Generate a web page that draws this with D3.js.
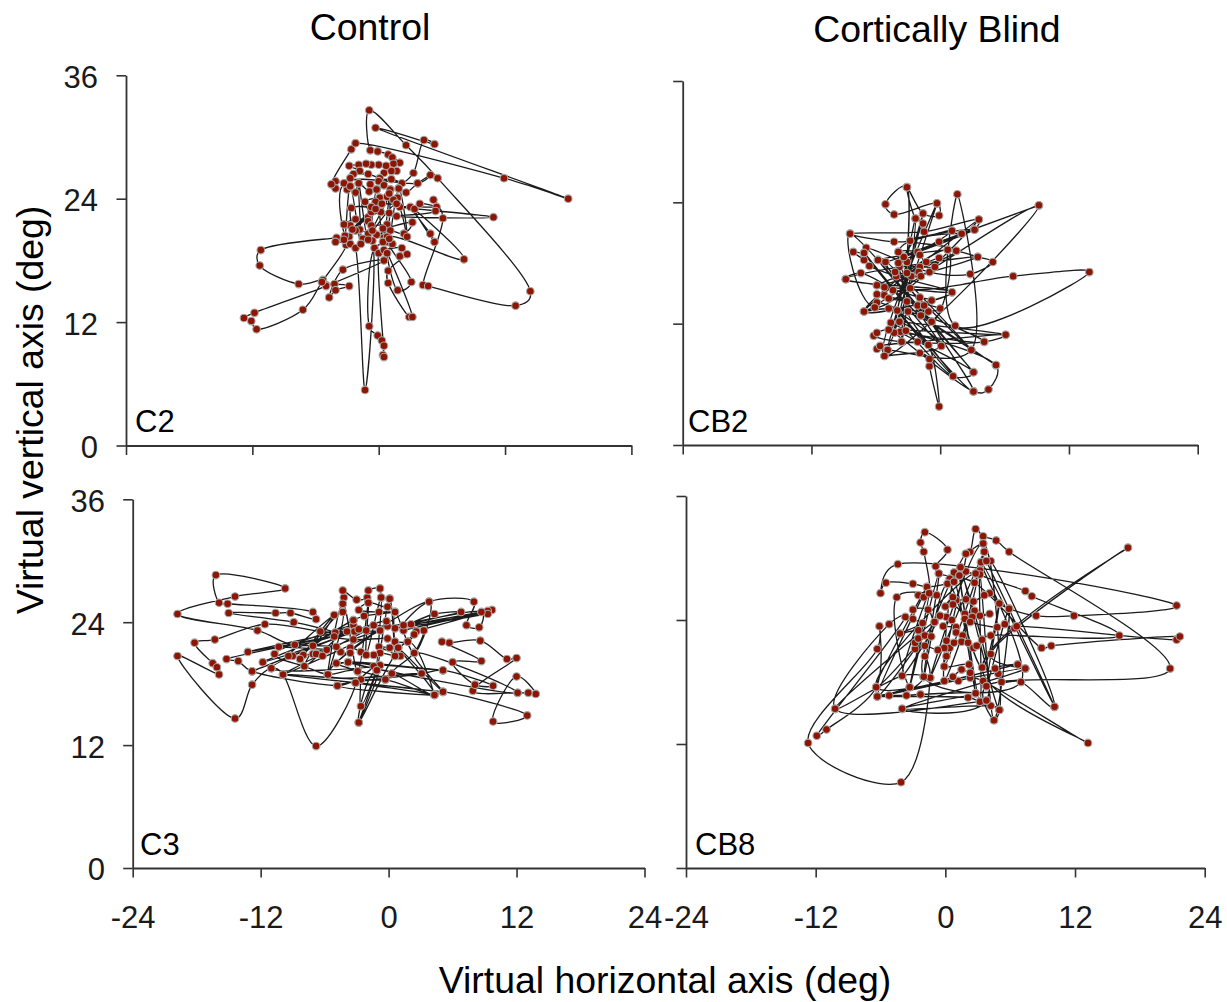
<!DOCTYPE html>
<html>
<head>
<meta charset="utf-8">
<script src="https://cdn.jsdelivr.net/npm/d3@7"></script>
<style>
  html, body { margin: 0; padding: 0; background: #fff; }
  svg { display: block; }
  text { font-family: "Liberation Sans", Arial, sans-serif; fill: #1a1a1a; }
</style>
</head>
<body>
<svg id="chart" width="1227" height="1002"></svg>
<script>
// fixation positions in degrees, in scan order
let scanC2 = [[-1,22.2],[.2,22.7],[1,22.6],[-.7,22.7],[-1.3,23.7],[.1,24.1],[-.3,23.7],[.8,24.2],[1.8,24.1],[1.4,23.9],[1.7,23.5],[.3,23.5],[-.7,23.2],[-2.6,23.1],[-2.7,21.4],[-3.3,21.5],[-2.2,22],[-1,21.8],[-.7,21.4],[.8,21.5],[.4,21.1],[3.2,21.7],[2.4,20.6],[1.1,20.9],[-.2,20.5],[-1,20.6],[-1.8,21],[-2.2,20.9],[-2.8,20.3],[-4,20.2],[-11.2,19],[-11.3,17.5],[-7.6,15.7],[-5.3,16.1],[-5,15.6],[-4.2,15.7],[-2.8,15.5],[-4.1,15.1],[-4.7,14.4],[-3.4,17.1],[.5,18],[-5,15.5],[-11.8,12.9],[-12.8,12.4],[-12.1,12.1],[-11.6,11.3],[-7.2,13.2],[-5.4,15.9],[-3.1,19.5],[-4.1,19.8],[-2.7,19.6],[-2.2,19.2],[-1.3,5.4],[-.6,19.9],[-1.5,20.1],[.5,20.2],[.8,19.8],[1.3,19.6],[-.4,19.2],[-.9,11.6],[-.1,10.7],[.3,10.2],[.5,9.7],[.4,8.8],[.5,8.6],[0,18.7],[.5,19],[2.2,19.2],[2,18.4],[2.7,18.6],[.9,17],[.9,15.8],[2.9,12.5],[3.2,12.5],[.8,18.7],[1.8,15.1],[3.1,15.9],[.8,20.3],[8.1,18.1],[3,23.2],[4.9,20.6],[5.3,19.8],[3.4,23],[3.9,23.5],[5.5,23.2],[2,23.2],[10.9,22.2],[1.7,22.3],[5.4,22.8],[5.2,23.9],[6.1,22.1],[4.2,15.6],[4.7,15.5],[13,13.6],[14.4,15],[5.6,26],[2.6,29.2],[-.9,32.6],[-.8,28.7],[-.1,28.6],[.9,28.3],[1.3,28],[2,27.5],[1.4,27.4],[1.7,26.7],[1.2,26.7],[.5,26.5],[.7,27.2],[0,27.3],[-.7,27.3],[-1.2,27.4],[-1.9,27.3],[-2.8,27.2],[-1.8,26.7],[-2.4,26.4],[-1,26.4],[.1,26],[2.2,25.5],[1.2,25.9],[0,25.7],[1.1,24.9],[.5,25.3],[-.2,24.9],[-.8,25.4],[-.9,24.7],[-1.9,25.5],[-2.2,24.6],[-2.7,25.2],[-3,24.9],[-2.7,26],[-3.3,25.5],[-4.1,25.7],[-4.1,25],[-4.5,25.4],[-2.6,28.8],[-2.2,29.4],[11.9,26],[18,24],[-.3,30.9],[5.3,29.3],[4.3,29.7],[3.3,26.5],[1.9,25],[2.6,24.6],[3.7,25.5],[4.9,26.3],[3.7,25.5],[-3.3,25.5],[-3.2,20.4],[-2.7,25.2],[-1.7,19.6],[-1.9,25.5],[-1,20],[-.2,24.9],[.4,19.8],[1.1,24.9],[1,20.1],[1.9,25],[2.7,20.3],[1.7,23.5],[-.6,20.9],[1,24.5],[-2.5,21],[-.3,23],[-3.3,20]]

let scanCB2 = [[-3.8,17.6],[-2.8,15.5],[6.8,16.7],[13.9,17.1],[1.4,11.8],[1.6,24.8],[2.9,9.4],[-4.9,9.4],[-5.9,9.5],[-5.6,9.8],[-2.1,10.2],[6.1,10.9],[4.1,10.2],[-3.6,10.2],[-6.2,10.8],[-5.9,11.1],[-4.8,11.4],[-4.3,11.1],[3.1,5.3],[4.5,5.5],[5.2,7.9],[-3.7,11.2],[3.1,7.2],[1.2,6.8],[-3.2,11.3],[-4.6,12.1],[-3.8,12.2],[-1.1,9.9],[-.1,3.8],[-1,7.8],[-1,8.5],[-1.9,9.1],[-5.2,8.8],[.1,9.8],[-4,13.3],[-3,13.2],[-1.8,12.8],[-.8,12.2],[-5.9,14.1],[-6.1,13.6],[-7.1,13.2],[-4.8,13.5],[-1.1,13.2],[0,13.5],[-5.9,14.9],[-5.2,14.8],[-4.8,14.5],[-3.1,14.2],[-2.1,13.8],[-1.5,13.8],[-.8,14.3],[-1.9,14.6],[-5.9,15.8],[-8.8,16.4],[-7.4,17],[-4.4,15.3],[-5.2,15.6],[1.1,15.1],[-4.1,16.7],[-6.6,17.7],[-7.1,18.3],[-8.1,19.1],[-7.1,19],[-6.9,19.5],[-1,17.1],[2.8,16.9],[4.9,18.1],[3.5,18.6],[1.5,19.2],[.7,19.3],[-5.8,18.3],[-5.1,18.1],[-.1,20.1],[9.2,23.7],[2,20.9],[3.2,21.3],[3.6,22.3],[-1.5,21.1],[-8.4,20.9],[-4.3,20.1],[-2.8,20.2],[1.1,21.2],[-3.9,18],[-3.4,18.6],[-3.1,18.1],[-3.9,19.1],[-2.1,19.1],[-1.9,18.8],[-1.3,18.1],[-.1,18.5],[-.5,17.6],[-1.9,17.6],[-2,17.1],[-1.8,16.7],[-2.7,16.7],[-3.1,17],[-4.2,17.1],[-1.6,21.9],[-2.3,22.4],[-3.1,25.5],[-1.6,22.9],[-.1,22.7],[-.3,23.9],[-4.3,22.8],[-5.1,23.8],[-3.1,25.5],[-3.6,10.2],[-2.3,22.4],[-4.3,11.1],[-1.6,22.9],[-4.9,9.4],[-.3,23.9],[-5.2,8.8],[9.2,23.7],[-7.1,13.2],[3.6,22.3],[-6.1,13.6],[-8.4,20.9],[3.1,7.2],[-5.8,18.3],[2.9,9.4],[-5.1,18.1],[.1,9.8],[-7.1,19],[-.8,12.2],[.7,19.3],[-7.1,13.2],[1.1,15.1],[-8.8,16.4],[3.5,18.6],[-5.9,15.8],[1.5,19.2],[-2.8,20.2],[3.2,21.3],[-3.4,18.6],[2,20.9],[-3.9,19.1],[3.1,5.3],[-4,13.3],[1.2,6.8],[-3,13.2],[5.2,7.9],[-1.8,12.8],[4.1,10.2],[-4.8,11.4],[6.1,10.9],[-3.8,12.2]]

let scanC3 = [[-3.9,23.1],[-8.8,21.8],[-12.3,23.2],[-19.8,24.8],[-14.4,26.5],[-9.7,27.3],[-16.2,28.6],[-15.9,25.9],[-15.1,25.8],[-7.1,25],[-6.8,24.3],[-9.2,24.9],[-10.6,24.9],[-15,24.9],[-8.9,24],[-5,23],[-6.4,23.1],[-11.6,23.8],[-16.3,22.3],[-18.2,22],[-16.5,20],[-16.1,19.6],[-15.9,18.9],[-19.8,20.7],[-14.4,14.6],[-12.8,17.9],[-11,19.5],[-9.9,18.9],[-6.8,11.9],[-3.1,18.1],[-4.8,17.8],[-12.8,19.2],[-14.1,20.2],[-15.2,20.4],[-2.1,23.2],[-13.2,21.1],[-2.8,23.3],[-11.8,20.1],[-3.3,23.7],[-10.7,20.9],[-7.9,19.7],[-5.7,18.9],[-2.9,19.2],[-2.6,15.8],[-1.1,19.3],[-2.8,14.2],[-.8,19.8],[-2.6,18.4],[-.3,18.4],[4.3,16.9],[5.1,17.2],[13,14.9],[9.8,14.3],[12,18.7],[13.8,17],[13.1,17.1],[12.1,17.1],[7.9,17.3],[12,20.5],[11.1,20.4],[8.6,22.2],[5.7,22],[5,22.1],[8.7,20.2],[6,20.1],[8.1,17.9],[9.8,17.8],[5.1,19.3],[3.1,19],[.3,19],[2.4,21],[3.3,23.2],[2.6,23.1],[9.7,25.2],[1.4,23.2],[9.3,25.1],[.6,23.4],[9.3,24.8],[2.1,23.8],[8.7,25],[8.5,23.5],[7.3,23.7],[8,26],[3.8,26],[1.4,23.7],[4.3,24.8],[6.8,25],[-.1,23.6],[-1.4,23.7],[-.8,23.2],[-3.2,23.1],[-5.1,22.6],[-3.3,22.3],[-.1,22.4],[.6,22.1],[1.8,22.1],[2.4,22.8],[.9,21.5],[.1,21.5],[-.9,21.6],[1.1,20.7],[.6,20.7],[-.8,21],[-1.4,20.8],[-2.1,20.8],[-2.6,21.1],[-3.6,21.5],[-3.6,21],[-4.5,21.1],[-4.9,21.6],[-10.3,21.6],[-5.8,21.3],[-7.1,20.9],[-6.8,20.9],[-6.2,20.7],[-8,20.8],[-8.3,20.4],[-9,20.7],[-9.4,20.7],[-5.1,24.7],[-4.3,25],[-4.3,25.8],[-4.2,26.4],[-4.3,27.1],[-3,26.2],[-2,26.4],[-1.9,27.1],[-.8,27.3],[-.7,26.4],[.1,26.3],[-.1,25.5],[-1.9,25.9],[-2.8,25.2],[-.9,25],[.6,25],[-2.3,24.6],[-3.3,24.2],[-7.1,21.7],[-.2,24.1],[-4.9,20],[-3.8,20.1],[-1.4,19.7],[-11,19.5],[-2.8,23.3],[-12.8,19.2],[-1.4,23.7],[-9.9,18.9],[-.8,23.2],[-8,20.8],[-3.3,24.2],[-7.9,19.7],[-5.1,24.7],[-8.3,20.4],[-4.3,25],[-5.7,18.9],[-4.3,25.8],[-2.9,19.2],[-1.9,25.9],[-2.1,20.8],[-.7,26.4],[-1.1,19.3],[.1,26.3],[.6,20.7],[.6,25],[2.4,21],[3.8,26],[-5.7,18.9],[3.1,19],[-4.8,17.8],[4.3,16.9],[-3.1,18.1],[5.1,17.2],[-9.9,18.9],[-.3,18.4],[-4.9,20],[5.1,19.3],[-3.8,20.1],[12.1,17.1],[2.4,21],[5.1,17.2],[.9,21.5],[4.3,16.9],[-1.1,19.3],[-2.8,14.2],[1.8,22.1],[4.3,16.9]]

let scanCB8 = [[-1.9,20.5],[-1.4,18.4],[-4.1,8.3],[-12.7,12.1],[-6.3,21.2],[-6.1,23.4],[-6.4,17.5],[-11,13.4],[-11.9,12.8],[-3.7,24.3],[-5.2,23.6],[-10.2,15.4],[3.8,16.2],[3.2,16.1],[2.1,16.5],[-6.3,16.6],[-5.2,16.7],[-3.6,16.7],[-2.3,16.8],[2.8,16.9],[-4,15.4],[4.2,15.7],[5,15.3],[4.5,14.3],[3.8,17.6],[20.8,19.3],[5.9,30.6],[4.7,31.7],[3.5,32.1],[2.8,32.8],[2.3,30.6],[1.9,30.4],[3.5,31.4],[3.6,30.6],[3.3,29.6],[3.8,29.7],[4.2,29.7],[10.1,15.6],[7,18],[5.2,18],[4.9,18.8],[4.6,19.3],[6.7,19.7],[7.4,19.3],[4.2,20.7],[16.9,31],[3.4,19.4],[13.2,12.1],[3.5,18.1],[2.3,18.4],[1.2,18.1],[-.1,18.1],[.7,18.5],[1.5,19.2],[2.3,18.9],[2.2,19.7],[-.1,19.5],[.1,20.5],[.4,21.3],[-.1,21.3],[-.7,21.1],[-1.9,21.5],[-2.8,21.2],[-2.8,21.8],[-2.5,22.2],[-1.9,22.5],[-1.3,22.4],[-2.5,23],[-4.2,22.7],[-2.1,23.7],[-3,24.1],[-3,25],[-1.6,25],[-1,23.8],[-.5,24.4],[.1,24.3],[.6,24],[-.2,23.4],[1,23.3],[1,22.8],[1.6,22.5],[.8,21.8],[.1,22],[1.5,21.9],[2.1,21.8],[2.6,21.3],[2.9,21.5],[3.4,22.1],[4.2,22.5],[16.1,22.5],[8,26.3],[7.4,26.8],[3.2,28.4],[3.2,28.8],[2.8,28.5],[1.9,28.7],[1.4,29.1],[.8,28.6],[1.3,28.3],[.4,28],[.8,27.7],[.2,27.5],[-1.7,27.2],[-3,27.5],[-5.5,27.6],[-6,26.6],[-4.4,29.4],[21.4,25.4],[11.9,24.4],[8.4,24.4],[5.9,25.1],[5,25.6],[4.1,26.6],[3.6,26.4],[2.6,25.8],[1.9,26],[1,25.9],[.7,26.2],[0,25.3],[.7,25.5],[1.8,24.6],[2.7,24.9],[3.2,24.4],[4.1,24.6],[2.5,24.3],[1.8,24.1],[2.3,23.8],[4.8,23.3],[5.5,23.6],[6.4,23.2],[6.6,23.4],[21.4,22.1],[21.7,22.4],[9.8,21.5],[8.9,21.3],[2.7,27.6],[-.6,28.5],[-.9,29.2],[.2,30.8],[-1.9,32.5],[-2.3,31.5],[-2,30.6],[-1.5,26.6],[-2.5,26.4],[-2,26.2],[-.8,26.4],[-4.5,26.2],[-3.3,17.5],[-2,18.5],[-4,18.6],[-10.2,15.4],[-1,23.8],[-6.4,17.5],[-1.7,27.2],[-6.3,16.6],[-.5,24.4],[-4,18.6],[-1.5,26.6],[-3.3,17.5],[-.6,28.5],[-2,18.5],[.2,27.5],[3.4,19.4],[5,25.6],[3.8,17.6],[5.9,25.1],[4.5,14.3],[3.2,28.4],[3.2,16.1],[1.3,28.3],[2.8,16.9],[.8,27.7],[-.1,18.1],[2.8,28.5],[-6.4,17.5],[6.7,19.7],[-6.3,16.6],[7.4,19.3],[-4,15.4],[3.8,16.2],[1.4,29.1],[5,15.3],[3.5,31.4],[-1.4,18.4],[3.6,30.6],[-.1,19.5],[1.9,30.4],[-2,18.5],[7,18],[3.3,29.6],[10.1,15.6],[3.8,29.7]]

let xTicks = [-24, -12, 0, 12, 24]
let yTicks = [0, 12, 24, 36]

let panels = [
    { name: 'C2',  scan: scanC2,  left: 126,   right: 631.4,  top: 75.3,  bottom: 445.5, tickLabelsY: true,  tickLabelsX: false, nameX: 135, nameY: 432, yLabelRight: 98 },
    { name: 'CB2', scan: scanCB2, left: 682.7, right: 1197.7, top: 81,    bottom: 445,   tickLabelsY: false, tickLabelsX: false, nameX: 688, nameY: 432 },
    { name: 'C3',  scan: scanC3,  left: 132.7, right: 644.5,  top: 499.3, bottom: 868,   tickLabelsY: true,  tickLabelsX: true,  nameX: 140, nameY: 855, yLabelRight: 105 },
    { name: 'CB8', scan: scanCB8, left: 686,   right: 1204.7, top: 496,   bottom: 868,   tickLabelsY: false, tickLabelsX: true,  nameX: 695, nameY: 855 }
]

let svg = d3.select('#chart')

// the source figure is a slightly soft raster
let soft = svg.append('defs').append('filter').attr('id', 'soft')
soft.append('feGaussianBlur').attr('stdDeviation', 0.4)

function drawAxes(g, panel, x, y) {
    let bottomAxis = d3.axisBottom(x)
        .tickValues(xTicks)
        .tickSize(9.5)
        .tickSizeOuter(0)
        .tickPadding(28)
        .tickFormat(panel.tickLabelsX ? d3.format('d') : '')
    let leftAxis = d3.axisLeft(y)
        .tickValues(yTicks)
        .tickSize(9.5)
        .tickSizeOuter(0)
        .tickPadding(panel.left - 9.5 - panel.yLabelRight)
        .tickFormat(panel.tickLabelsY ? d3.format('d') : '')

    let xg = g.append('g')
        .attr('transform', 'translate(0,' + panel.bottom + ')')
        .call(bottomAxis)
    let yg = g.append('g')
        .attr('transform', 'translate(' + panel.left + ',0)')
        .call(leftAxis)

    for (let a of [xg, yg]) {
        a.select('.domain').attr('stroke', '#333').attr('stroke-width', 1.8)
        a.selectAll('.tick line').attr('stroke', '#333').attr('stroke-width', 1.6)
        a.selectAll('.tick text')
            .style('font-family', '"Liberation Sans", Arial, sans-serif')
            .style('font-size', '31px')
            .style('fill', '#1a1a1a')
    }
    // the picture writes minus as a plain hyphen
    xg.selectAll('.tick text').text(d => panel.tickLabelsX ? String(d) : '')
    yg.selectAll('.tick text').attr('y', 2)
}

function drawPanel(panel) {
    let x = d3.scaleLinear().domain([-24, 24]).range([panel.left, panel.right])
    let y = d3.scaleLinear().domain([0, 36]).range([panel.bottom, panel.top])
    let g = svg.append('g').attr('class', 'panel')

    drawAxes(g, panel, x, y)

    let marks = g.append('g').attr('filter', 'url(#soft)')
    let line = d3.line()
        .x(d => x(d[0]))
        .y(d => y(d[1]))
        .curve(d3.curveCatmullRom.alpha(0.35))

    marks.append('path')
        .datum(panel.scan)
        .attr('d', line)
        .attr('fill', 'none')
        .attr('stroke', '#1a1a1a')
        .attr('stroke-width', 1.3)

    marks.selectAll('circle')
        .data(panel.scan)
        .enter().append('circle')
        .attr('cx', d => x(d[0]))
        .attr('cy', d => y(d[1]))
        .attr('r', 3.8)
        .attr('fill', '#8e1206')
        .attr('stroke', '#a8a8a8')
        .attr('stroke-width', 1.1)

    g.append('text')
        .attr('x', panel.nameX)
        .attr('y', panel.nameY)
        .style('font-size', '31px')
        .style('fill', '#000')
        .text(panel.name)
}

panels.forEach(drawPanel)

function title(text, x, y, rotate) {
    let t = svg.append('text')
        .attr('text-anchor', 'middle')
        .style('font-size', '37.4px')
        .style('fill', '#000')
        .text(text)
    if (rotate) t.attr('transform', 'translate(' + x + ',' + y + ') rotate(-90)')
    else t.attr('x', x).attr('y', y)
}

title('Control', 370, 40)
title('Cortically Blind', 937, 42)
title('Virtual horizontal axis (deg)', 665, 993)
title('Virtual vertical axis (deg)', 43, 410, true)
</script>
</body>
</html>
